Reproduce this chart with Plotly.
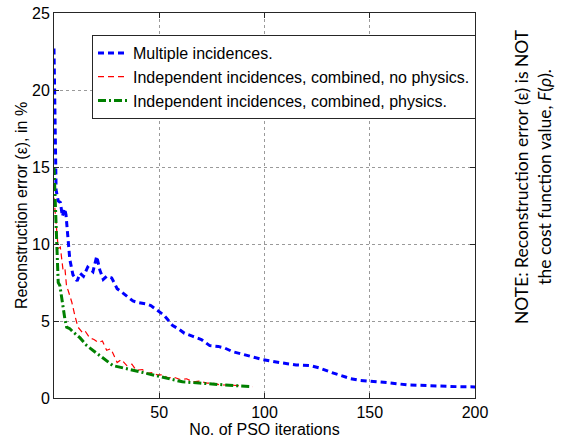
import plotly.graph_objects as go

# ---- data ----
blue_x = [0, 0.5, 1, 2, 3, 4, 5, 5.7, 6.5, 7.5, 9, 11, 12.4, 14, 16, 18.5, 20.3, 21.8, 23.4, 25,
          27.4, 30, 32, 34.6, 37.5, 40, 44, 46, 49, 52, 54, 56.4, 59, 62, 66, 70, 74, 78, 81, 85,
          88, 93, 99, 107, 115, 122, 126, 132, 137, 141, 145, 150, 158, 168, 180, 193, 200]
blue_y = [22.7, 17, 13.5, 12.8, 12.7, 11.8, 12.3, 11.9, 10.5, 9.0, 8.0, 7.6, 8.1, 7.9, 8.5, 8.2,
          9.2, 8.3, 7.7, 7.9, 7.8, 7.1, 6.9, 6.6, 6.3, 6.2, 6.1, 6.0, 5.7, 5.4, 5.1, 4.7, 4.5, 4.2,
          4.0, 3.8, 3.4, 3.35, 3.25, 3.0, 2.9, 2.7, 2.5, 2.3, 2.15, 2.1, 1.95, 1.65, 1.45, 1.25,
          1.15, 1.1, 1.0, 0.85, 0.78, 0.73, 0.72]

red_x = [0, 1, 2, 3, 3.7, 4.3, 5.2, 6, 6.7, 7.6, 8.5, 10, 11.4, 13.8, 15, 17, 19, 21, 23, 25, 27,
         28, 30, 32, 34.6, 37, 39, 42, 44, 47, 49, 52, 54, 57, 60, 63, 66, 69, 72.5, 76, 79, 83,
         87, 91, 94.5]
red_y = [13, 11.5, 9.7, 9.8, 9.0, 8.3, 8.4, 7.2, 7.0, 6.6, 6.2, 5.3, 4.6, 4.2, 4.3, 3.9, 3.8, 3.6,
         3.7, 3.1, 3.2, 2.9, 2.3, 2.5, 2.1, 2.2, 1.8, 1.85, 1.6, 1.65, 1.5, 1.5, 1.3, 1.35, 1.2,
         1.25, 1.04, 1.1, 0.97, 0.95, 0.84, 0.85, 0.8, 0.78, 0.73]

green_x = [0, 0.5, 1, 1.5, 2, 2.8, 3.6, 4.3, 5.2, 6, 7.5, 9, 12.4, 15.6, 18.6, 23.4, 28, 34.6, 41,
           47, 53.7, 61, 69, 79, 86, 93]
green_y = [15, 13.3, 11, 9.5, 7.5, 7.3, 6.5, 6.0, 5.1, 4.6, 4.5, 4.3, 3.9, 3.4, 3.1, 2.6, 2.1, 1.9,
           1.7, 1.5, 1.3, 1.05, 0.97, 0.85, 0.8, 0.75]

names = ["Multiple incidences.",
         "Independent incidences, combined, no physics.",
         "Independent incidences, combined, physics."]
x_ticks = [50, 100, 150, 200]
y_ticks = [0, 5, 10, 15, 20, 25]

FONT = "Liberation Sans, Arial, sans-serif"

fig = go.Figure()
fig.add_trace(go.Scatter(x=blue_x, y=blue_y, mode="lines", name=names[0],
                         line=dict(color="#0000ff", width=3, dash="6px,4px")))
fig.add_trace(go.Scatter(x=red_x, y=red_y, mode="lines", name=names[1],
                         line=dict(color="#ff0000", width=1.2, dash="6px,4px")))
fig.add_trace(go.Scatter(x=green_x, y=green_y, mode="lines", name=names[2],
                         line=dict(color="#008000", width=3, dash="8px,3px,2px,3px")))

axis_common = dict(showline=True, linecolor="#262626", linewidth=1, mirror="ticks",
                   ticks="inside", ticklen=5, tickcolor="#262626", automargin=False,
                   showgrid=True, gridcolor="#9a9a9a", griddash="dot", gridwidth=1,
                   zeroline=False, tickfont=dict(family=FONT, size=16, color="black"))

fig.update_xaxes(range=[0, 200], tickvals=x_ticks,
                 title=dict(text="No. of PSO iterations", font=dict(family=FONT, size=16, color="black"),
                            standoff=2),
                 **axis_common)
fig.update_yaxes(range=[0, 25], tickvals=y_ticks,
                 title=dict(text="Reconstruction error (ε), in %", font=dict(family=FONT, size=16, color="black"),
                            standoff=0),
                 **axis_common)

L, R, T, B = 54, 89, 13, 44
pw = 564 - L - R
ph = 442 - T - B

fig.update_layout(
    width=564, height=442,
    margin=dict(l=L, r=R, t=T, b=B, autoexpand=False),
    paper_bgcolor="white", plot_bgcolor="white",
    showlegend=True,
    legend=dict(x=(92 - L) / pw, y=(442 - B - 35) / ph, xanchor="left", yanchor="top",
                bgcolor="white", bordercolor="#262626", borderwidth=1,
                font=dict(family=FONT, size=16, color="black"),
                tracegroupgap=0, itemwidth=30),
    annotations=[dict(
        text="NOTE: Reconstruction error (ε) is NOT<br>the cost function value, <i>F</i>(<i>ρ</i>).",
        x=(533 - L) / pw, y=(442 - B - 177) / ph, xref="paper", yref="paper",
        xanchor="center", yanchor="middle", showarrow=False, textangle=-90,
        font=dict(family="Lato, Open Sans, sans-serif", size=17.5, color="black"),
        align="center")],
)

fig.write_html("out.html")
